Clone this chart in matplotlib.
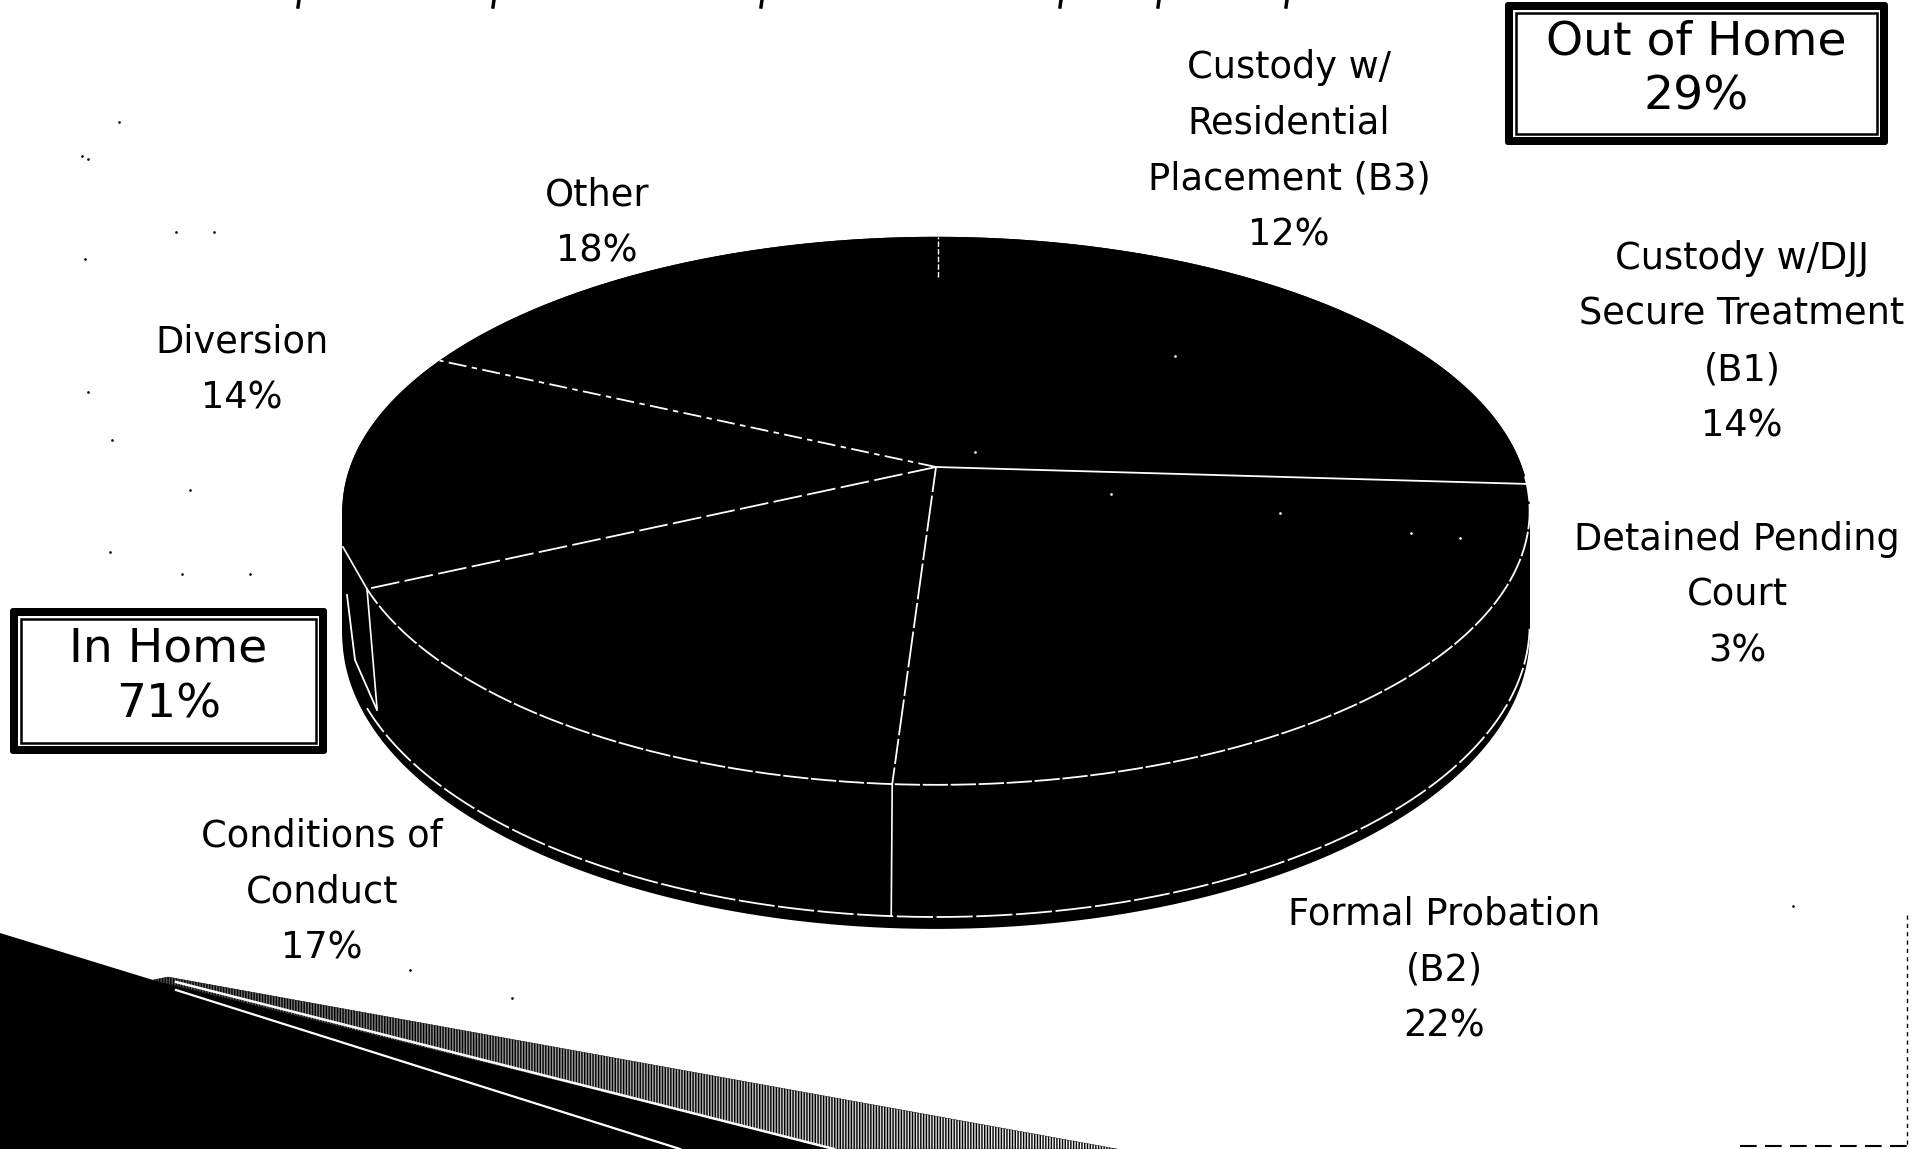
import numpy as np
import matplotlib.pyplot as plt
from matplotlib.patches import Rectangle, FancyBboxPatch, Polygon

categories = ['Custody w/\nResidential\nPlacement (B3)', 'Custody w/DJJ\nSecure Treatment\n(B1)',
              'Detained Pending\nCourt', 'Formal Probation\n(B2)', 'Conditions of\nConduct',
              'Diversion', 'Other']
shares = [12, 14, 3, 22, 17, 14, 18]
groups = ['Out of Home', 'In Home']
group_shares = [29, 71]

# where the labels sit, in pixels of the page
label_x = [1289, 1742, 1737, 1444, 322, 242, 597]
label_y = [151, 342, 595, 970, 892, 370, 223]

# which slice edges still show as white lines on the scan, starting from the top of the pie
edge_visible = [True, False, True, False, True, True, True]
edge_dash = [None, None, (60, 0), None, (14, 2, 20, 2), (16, 3), (10, 3, 3, 3)]

scan_specks = [(119, 122), (82, 156), (88, 159), (176, 232), (214, 232), (85, 259), (88, 392), (112, 440),
               (190, 490), (110, 552), (182, 574), (250, 574), (410, 970), (512, 998), (1793, 906), (1175, 356),
               (1111, 494), (1280, 513), (1411, 533), (1460, 538), (975, 452)]
title_bits = [299, 494, 762, 1061, 1159, 1287]

cx, apex_y = 936, 467
a, b, k = 586, 267, 0.16


def project(theta, drop=0.0, r=1.0):
    # circle seen in perspective, theta clockwise from the top
    u = r * np.sin(theta)
    v = r * np.cos(theta)
    w = 1 + k * v
    return cx + a * u / w, apex_y + (drop - b * v) / w


fig = plt.figure(figsize=(19.13, 11.49), dpi=100)
ax = fig.add_axes([0, 0, 1, 1])

# wedge of page shadow in the lower left, the smudged band fades to the right
band = Polygon([(168, 977), (1117, 1149), (834, 1149), (153, 980)], fc='none', ec='none')
ax.add_patch(band)
fade = ax.imshow(np.linspace(0.35, 1, 256).reshape(1, -1), cmap='gray', vmin=0, vmax=1, aspect='auto',
                 extent=(153, 1117, 1149, 977))
fade.set_clip_path(band)
ax.add_patch(Polygon([(168, 977), (1117, 1149), (834, 1149), (153, 980)], fc='none', ec='black',
                     hatch='||||||', lw=0.3))
ax.add_patch(Polygon([(0, 933), (153, 980), (834, 1149), (0, 1149)], fc='black', ec='none'))
ax.plot([176, 834], [982, 1149], color='white', lw=1.8)
ax.plot([176, 680], [990, 1149], color='white', lw=1.6)

ax.set_xlim(0, 1913)
ax.set_ylim(1149, 0)
ax.axis('off')

# torn edge of the page, lower right
ax.plot([1907, 1907], [915, 1145], color='black', lw=1, ls=(0, (3, 3)))
ax.plot([1740, 1913], [1146, 1146], color='black', lw=1.5, ls=(0, (8, 4)))

t = np.linspace(0, 2 * np.pi, 721)

# pie body: side wall first, then each slice on top
for drop in np.linspace(0, 121, 30):
    x, y = project(t, drop)
    ax.fill(x, y, color='black', lw=0)

fractions = np.array(shares) / sum(shares)
edges = np.concatenate([[0], np.cumsum(fractions)])
for start, stop in zip(edges[:-1], edges[1:]):
    th = np.linspace(start, stop, 80) * 2 * np.pi
    x, y = project(th)
    ax.fill(np.r_[cx, x], np.r_[apex_y, y], color='black', lw=0)

# rim lines
th = np.linspace(np.radians(92), edges[5] * 2 * np.pi, 300)
x, y = project(th)
ax.plot(x, y, color='white', lw=1.3, ls=(0, (14, 1.5)))
th = np.linspace(np.radians(100), edges[5] * 2 * np.pi, 300)
x, y = project(th, 111)
ax.plot(x, y, color='white', lw=1.3, ls=(0, (20, 2)))

for frac, show, dash in zip(edges[:-1], edge_visible, edge_dash):
    if not show:
        continue
    angle = frac * 2 * np.pi
    x, y = project(angle)
    if frac == 0:
        # only the outer bit of the top edge is left
        ax.plot([cx + 2, x + 2], [277, y], color='white', lw=1, ls=(0, (4, 1.5)))
        continue
    ax.plot([cx, x], [apex_y, y], color='white', lw=1.3, ls=(0, dash))
    x2, y2 = project(angle, 111)
    if y2 > apex_y + 150:
        lean = 10 if x < cx - 300 else -1
        ax.plot([x, x2 + lean], [y, y2], color='white', lw=1.2)

# small nick at the left of the wall
x1, y1 = project(edges[5] * 2 * np.pi)
ax.plot([343, x1], [547, y1], color='white', lw=1.2)
ax.plot([347, 355, 377], [595, 660, 710], color='white', lw=1.3)

for xs, ys in scan_specks:
    ax.plot(xs, ys, '.', color='white' if 450 < xs < 1500 and 250 < ys < 600 else 'black', ms=1.8)

for xb in title_bits:
    ax.plot([xb, xb - 1], [0, 7], color='black', lw=2.5)

for cat, share, lx, ly in zip(categories, shares, label_x, label_y):
    ax.text(lx, ly, '{}\n{}%'.format(cat, share), ha='center', va='center', fontsize=26.5,
            family='DejaVu Sans', linespacing=1.65, color='black')


def group_box(x0, y0, x1, y1, text):
    ax.add_patch(FancyBboxPatch((x0 + 3, y0 + 3), x1 - x0 - 6, y1 - y0 - 6, boxstyle='round,pad=3,rounding_size=3',
                                fc='black', ec='none'))
    ax.add_patch(Rectangle((x0 + 8, y0 + 8), x1 - x0 - 16, y1 - y0 - 16, fc='white', ec='none'))
    ax.add_patch(Rectangle((x0 + 11, y0 + 11), x1 - x0 - 22, y1 - y0 - 22, fc='white', ec='black', lw=1.8))
    ax.text((x0 + x1) / 2, (y0 + y1) / 2 - 4, text, ha='center', va='center', fontsize=34,
            family='DejaVu Sans', linespacing=1.31, color='black')


group_box(1505, 2, 1888, 145, '{}\n{}%'.format(groups[0], group_shares[0]))
group_box(10, 608, 327, 754, '{}\n{}%'.format(groups[1], group_shares[1]))

plt.savefig('out.png', dpi=100)
